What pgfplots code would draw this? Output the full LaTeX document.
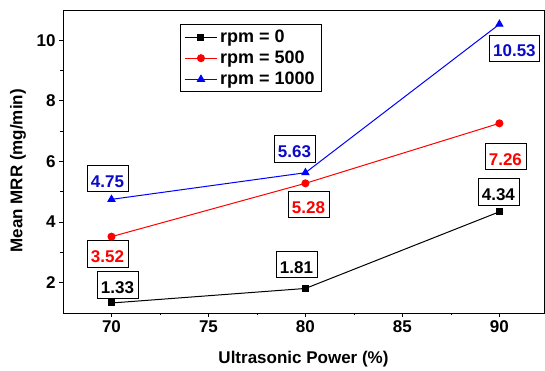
\documentclass[border=0pt]{standalone}
\usepackage{fontspec}
\setmainfont{Liberation Sans}
\usepackage{pgfplots}
\pgfplotsset{compat=1.18}
\definecolor{myblue}{RGB}{0,0,255}
\definecolor{labblue}{RGB}{10,10,200}
\definecolor{myred}{RGB}{255,0,0}
\begin{document}
\begin{tikzpicture}[
  lab/.style={draw=black, line width=0.7pt, fill=white, font=\fontsize{17}{20}\selectfont\bfseries,
    text height=21.5pt, text depth=4pt, inner ysep=0.5pt, inner xsep=4pt, anchor=center}]
\begin{axis}[
  scale only axis, width=481pt, height=303pt,
  xmin=67.5, xmax=92.3, ymin=1, ymax=11,
  xtick={70,75,80,85,90}, ytick={2,4,6,8,10},
  minor x tick num=1, minor y tick num=1,
  tick align=outside, xtick pos=bottom, ytick pos=left,
  major tick length=4pt, minor tick length=2.5pt,
  tick style={black, line width=0.8pt},
  axis line style={line width=0.8pt},
  font=\fontsize{17}{20}\selectfont\bfseries,
  /pgf/number format/assume math mode=true,
  xlabel={Ultrasonic Power (\%)}, ylabel={Mean MRR (mg/min)},
  every axis x label/.style={at={(axis description cs:0.5,0)}, anchor=base, yshift=-51pt},
  every axis y label/.style={at={(axis description cs:-0.0936,0.469)}, anchor=center, rotate=90},
  legend style={at={(rel axis cs:0.243,0.953)}, anchor=north west, draw=black, line width=0.7pt,
    font=\fontsize{18}{21}\selectfont\bfseries, row sep=4pt, inner xsep=4pt, inner ysep=4pt,
    nodes={inner ysep=1.5pt, inner xsep=2.5pt}},
  legend cell align=left,
  legend image code/.code={\draw[mark repeat=2,mark phase=2,#1] plot coordinates {(0cm,0cm) (0.57cm,0cm) (1.14cm,0cm)};},
]
\coordinate (O) at (rel axis cs:0,0);
\addplot[black, line width=1pt, mark=square*, mark size=3pt] coordinates {(70,1.33) (80,1.81) (90,4.34)};
\addlegendentry{rpm = 0}
\addplot[myred, line width=1pt, mark=*, mark size=3.5pt] coordinates {(70,3.52) (80,5.28) (90,7.26)};
\addlegendentry{rpm = 500}
\addplot[myblue, line width=1pt, mark=triangle*, mark size=4pt] coordinates {(70,4.75) (80,5.63) (90,10.53)};
\addlegendentry{rpm = 1000}

\node[lab, text=black, xshift=6pt, yshift=18pt] at (axis cs:70,1.33) {1.33};
\node[lab, text=black, xshift=-9pt, yshift=24pt] at (axis cs:80,1.81) {1.81};
\node[lab, text=black, xshift=-1pt, yshift=20pt] at (axis cs:90,4.34) {4.34};
\node[lab, text=myred, xshift=-4pt, yshift=-17pt] at (axis cs:70,3.52) {3.52};
\node[lab, text=myred, xshift=3pt, yshift=-21pt] at (axis cs:80,5.28) {5.28};
\node[lab, text=myred, xshift=6pt, yshift=-33pt] at (axis cs:90,7.26) {7.26};
\node[lab, text=labblue, xshift=-4pt, yshift=21pt] at (axis cs:70,4.75) {4.75};
\node[lab, text=labblue, xshift=-11pt, yshift=24pt] at (axis cs:80,5.63) {5.63};
\node[lab, text=labblue, xshift=15pt, yshift=-24pt] at (axis cs:90,10.53) {10.53};
\end{axis}
\pgfresetboundingbox
\path[use as bounding box] (O) ++(-63pt,-58pt) rectangle ++(545pt,371pt);
\end{tikzpicture}
\end{document}
